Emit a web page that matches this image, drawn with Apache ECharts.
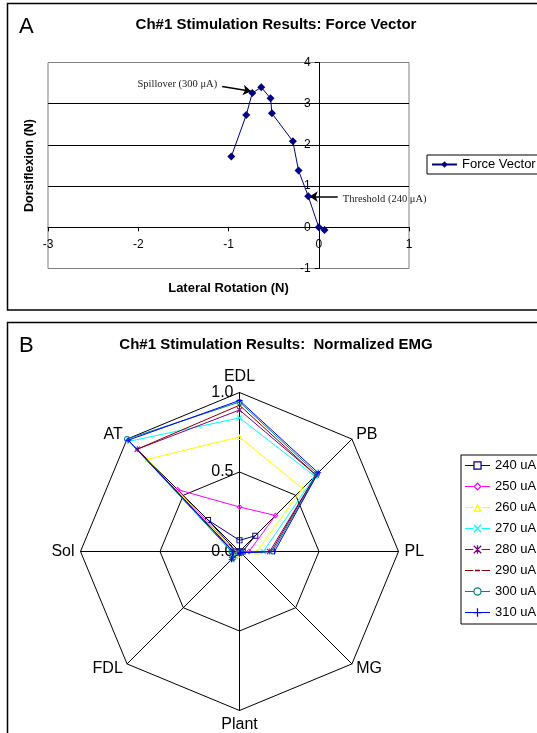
<!DOCTYPE html>
<html>
<head>
<meta charset="utf-8">
<script src="https://cdn.jsdelivr.net/npm/echarts@6/dist/echarts.min.js"></script>
<style>
  body { margin: 0; background: #fff; }
  #main { width: 537px; height: 733px; }
</style>
</head>
<body>
<div id="main"></div>
<script>
// panel A: force vector, one point per stimulation level
var latRot = [0.064, 0.0, -0.116, -0.224, -0.287, -0.519, -0.534, -0.637, -0.736, -0.803, -0.969]
var dorsi = [-0.063, 0.0, 0.752, 1.376, 2.087, 2.767, 3.131, 3.398, 3.262, 2.728, 1.716]
var xTicks = [-3, -2, -1, 0, 1]
var yTicks = [-1, 0, 1, 2, 3, 4]

// panel B: normalized EMG, Excel order (clockwise from top)
var muscles = ['EDL', 'PB', 'PL', 'MG', 'Plant', 'FDL', 'Sol', 'AT']
var levels = ['240 uA', '250 uA', '260 uA', '270 uA', '280 uA', '290 uA', '300 uA', '310 uA']
var emg240 = [0.07, 0.14, 0.02, 0.01, 0.00, 0.01, 0.02, 0.28]
var emg250 = [0.28, 0.32, 0.06, 0.01, 0.01, 0.02, 0.03, 0.55]
var emg260 = [0.72, 0.56, 0.11, 0.01, 0.02, 0.05, 0.03, 0.82]
var emg270 = [0.84, 0.67, 0.15, 0.01, 0.01, 0.04, 0.05, 0.98]
var emg280 = [0.89, 0.68, 0.19, 0.01, 0.01, 0.07, 0.04, 0.91]
var emg290 = [0.92, 0.68, 0.20, 0.01, 0.01, 0.05, 0.04, 0.91]
var emg300 = [0.94, 0.69, 0.21, 0.01, 0.01, 0.06, 0.05, 1.00]
var emg310 = [0.95, 0.70, 0.22, 0.01, 0.01, 0.07, 0.04, 0.99]
var emgAll = [emg240, emg250, emg260, emg270, emg280, emg290, emg300, emg310]

var colors = ['#000080', '#ff00ff', '#ffff00', '#00ffff', '#800080', '#800000', '#008080', '#0000ff']

// marker shapes in a 10x10 box (hollow ones are rings)
var shapes = [
  'M0,0H10V10H0Z M1.5,1.5V8.5H8.5V1.5Z',
  'M5,0L10,5L5,10L0,5Z M5,2.1L2.1,5L5,7.9L7.9,5Z',
  'M5,0L10,10L0,10Z M5,3.35L2.43,8.5L7.57,8.5Z',
  'M0,1.1L1.1,0L10,8.9L8.9,10Z M8.9,0L10,1.1L1.1,10L0,8.9Z',
  'M0,1.1L1.1,0L10,8.9L8.9,10Z M8.9,0L10,1.1L1.1,10L0,8.9Z M4.25,0H5.75V10H4.25Z',
  'M0,0M10,10 M2,4H8V6H2Z',
  'M5,0A5,5,0,1,1,5,10A5,5,0,1,1,5,0Z M5,1.5A3.5,3.5,0,1,0,5,8.5A3.5,3.5,0,1,0,5,1.5Z',
  'M4.25,0H5.75V4.25H10V5.75H5.75V10H4.25V5.75H0V4.25H4.25Z'
]

// radar in echarts runs counter-clockwise, so reorder
var order = [0, 7, 6, 5, 4, 3, 2, 1]

var font = 'Liberation Sans'

// grid box of panel A
var gLeft = 48
var gTop = 62.5
var gWidth = 361
var gHeight = 206
var xMin = xTicks[0]
var xMax = xTicks[xTicks.length - 1]
var yMin = yTicks[0]
var yMax = yTicks[yTicks.length - 1]
// move both axes onto the zero lines
var xOffset = -gHeight * (0 - yMin) / (yMax - yMin)
var yOffset = -gWidth * (0 - xMin) / (xMax - xMin)

var indicators = order.map(function (k, i) {
  var ind = { name: muscles[k], min: 0, max: 1 }
  if (i === 0) {
    ind.axisLabel = {
      show: true,
      fontSize: 16,
      fontFamily: font,
      color: '#000',
      margin: 6,
      formatter: function (v) { return v.toFixed(1) }
    }
  }
  return ind
})

var radarSeries = levels.map(function (name, s) {
  return {
    type: 'radar',
    name: name,
    symbol: 'path://' + shapes[s],
    symbolSize: 6,
    symbolKeepAspect: true,
    lineStyle: { color: colors[s], width: 1 },
    itemStyle: { color: colors[s], borderWidth: 0 },
    z: 2 + s,
    data: [{ name: name, value: order.map(function (k) { return emgAll[s][k] }) }]
  }
})

var legendIcon = function (s) {
  return 'path://M-10,4.5H0V5.5H-10Z M10,4.5H20V5.5H10Z ' + shapes[s].replace('M0,0M10,10 ', '')
}

var forcePts = latRot.map(function (x, i) { return [x, dorsi[i]] })

var chart = echarts.init(document.getElementById('main'))
chart.setOption({
  animation: false,
  textStyle: { fontFamily: font },
  graphic: [
    { type: 'rect', shape: { x: 7.5, y: 3.5, width: 540, height: 306.5 }, style: { fill: 'none', stroke: '#000', lineWidth: 1.5 } },
    { type: 'rect', shape: { x: 7.5, y: 322.5, width: 540, height: 420 }, style: { fill: 'none', stroke: '#000', lineWidth: 1.5 } },
    { type: 'text', left: 19, top: 16, style: { text: 'A', font: '22px ' + font, fill: '#000' } },
    { type: 'text', left: 19, top: 335, style: { text: 'B', font: '22px ' + font, fill: '#000' } },
    { type: 'text', x: 276, y: 25, style: { text: 'Ch#1 Stimulation Results: Force Vector', font: 'bold 15px ' + font, fill: '#000', align: 'center', verticalAlign: 'middle' } },
    { type: 'text', x: 276, y: 345, style: { text: 'Ch#1 Stimulation Results:  Normalized EMG', font: 'bold 15px ' + font, fill: '#000', align: 'center', verticalAlign: 'middle' } }
  ],
  legend: [
    {
      data: ['Force Vector'],
      left: 427,
      top: 155,
      orient: 'vertical',
      borderColor: '#000',
      borderWidth: 1,
      padding: [3, 6, 3, 4],
      itemWidth: 25,
      itemHeight: 8,
      itemGap: 0,
      textStyle: { fontSize: 13, color: '#000', fontFamily: font }
    },
    {
      data: levels.map(function (n, s) { return { name: n, icon: legendIcon(s) } }),
      left: 461,
      top: 455,
      orient: 'vertical',
      borderColor: '#000',
      borderWidth: 1,
      padding: [4, 6, 5, 4],
      itemWidth: 25,
      itemHeight: 9,
      itemGap: 8,
      itemStyle: { borderWidth: 0 },
      textStyle: { fontSize: 13, color: '#000', fontFamily: font }
    }
  ],
  grid: {
    left: gLeft,
    top: gTop,
    width: gWidth,
    height: gHeight,
    outerBoundsMode: 'none',
    containLabel: false,
    show: true,
    borderColor: '#808080',
    borderWidth: 1
  },
  xAxis: {
    type: 'value',
    min: xMin,
    max: xMax,
    interval: 1,
    offset: xOffset,
    name: 'Lateral Rotation (N)',
    nameLocation: 'middle',
    nameGap: 55,
    nameTextStyle: { fontWeight: 'bold', fontSize: 13, color: '#000', fontFamily: font },
    axisLine: { onZero: false, lineStyle: { color: '#000', width: 1 } },
    axisTick: { show: true, length: 4, lineStyle: { color: '#000' } },
    axisLabel: { fontSize: 12, color: '#000', margin: 11, fontFamily: font },
    splitLine: { show: false }
  },
  yAxis: {
    type: 'value',
    min: yMin,
    max: yMax,
    interval: 1,
    offset: yOffset,
    name: 'Dorsiflexion (N)',
    nameLocation: 'middle',
    nameGap: 283,
    nameTextStyle: { fontWeight: 'bold', fontSize: 12.5, color: '#000', fontFamily: font },
    axisLine: { onZero: false, lineStyle: { color: '#000', width: 1 } },
    axisTick: { show: true, length: 4, lineStyle: { color: '#000' } },
    axisLabel: { fontSize: 12, color: '#000', margin: 8, fontFamily: font },
    splitLine: { show: true, lineStyle: { color: ['#808080', '#000', '#000', '#000', '#000', '#808080'], width: 1 } }
  },
  radar: {
    center: [239.5, 551.5],
    radius: 159,
    startAngle: 90,
    splitNumber: 2,
    shape: 'polygon',
    indicator: indicators,
    axisName: { color: '#000', fontSize: 16, fontFamily: font },
    nameGap: 6,
    axisLine: { lineStyle: { color: '#000', width: 1 } },
    splitLine: { lineStyle: { color: '#000', width: 1 } },
    splitArea: { show: false },
    axisLabel: { show: false }
  },
  series: [
    {
      type: 'line',
      name: 'Force Vector',
      data: forcePts,
      symbol: 'diamond',
      symbolSize: 8,
      color: '#000080',
      lineStyle: { color: '#000080', width: 1 },
      itemStyle: { color: '#000080' },
      z: 5,
      markLine: {
        silent: true,
        symbol: ['none', 'arrow'],
        symbolSize: 8,
        lineStyle: { color: '#000', width: 1.5, type: 'solid' },
        label: { show: false },
        data: [
          [{ coord: [-1.07, 3.415] }, { coord: [-0.75, 3.30] }],
          [{ coord: [0.21, 0.745] }, { coord: [-0.10, 0.745] }]
        ]
      },
      markPoint: {
        silent: true,
        symbol: 'circle',
        symbolSize: 1,
        itemStyle: { color: 'rgba(0,0,0,0)' },
        label: {
          show: true,
          formatter: '{b}',
          fontFamily: 'Liberation Serif',
          fontSize: 10.5,
          color: '#222',
          distance: 0
        },
        data: [
          { name: 'Spillover (300 \u03bcA)', coord: [-1.12, 3.48], label: { position: 'left' } },
          { name: 'Threshold (240 \u03bcA)', coord: [0.26, 0.68], label: { position: 'right' } }
        ]
      }
    }
  ].concat(radarSeries)
})
</script>
</body>
</html>
